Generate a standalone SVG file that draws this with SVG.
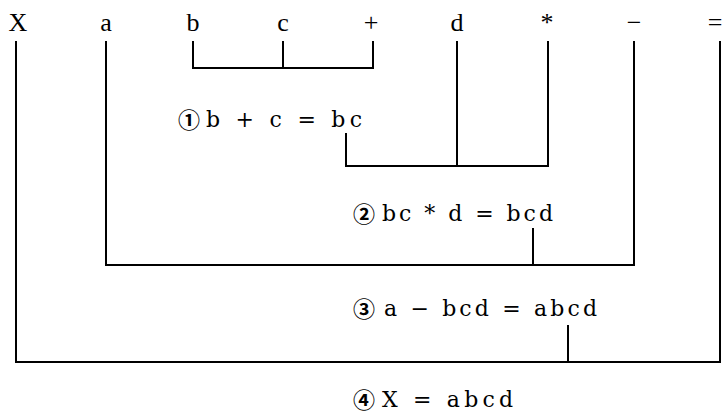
<svg xmlns="http://www.w3.org/2000/svg" width="723" height="417" viewBox="0 0 723 417">
<style>
.tok{font-family:"Liberation Serif","DejaVu Serif",serif;font-size:26px;fill:#000;text-anchor:middle}
.lbl{font-family:"DejaVu Serif","Liberation Serif",serif;font-size:22px;fill:#000}
.num{font-family:"Noto Sans CJK JP","DejaVu Sans",sans-serif;font-size:22px;font-weight:bold;fill:#000}
.ln{stroke:#000;stroke-width:2;fill:none;stroke-linecap:square}
</style>
<rect width="723" height="417" fill="#fff"/>
<g id="tokens">
<g id="n-X"><text class="tok" x="18" y="31">X</text></g>
<g id="n-a"><text class="tok" x="106" y="31">a</text></g>
<g id="n-b"><text class="tok" x="193" y="31">b</text></g>
<g id="n-c"><text class="tok" x="283" y="31">c</text></g>
<g id="n-plus"><text class="tok" x="371" y="31">+</text></g>
<g id="n-d"><text class="tok" x="457" y="31">d</text></g>
<g id="n-star"><text class="tok" x="547" y="31">*</text></g>
<g id="n-minus"><text class="tok" x="634" y="31">−</text></g>
<g id="n-eq"><text class="tok" x="715" y="31">=</text></g>
</g>
<g id="s1"><text class="num" x="178" y="128">①</text><text class="lbl" x="206" y="127" xml:space="preserve" textLength="156" lengthAdjust="spacing">b + c = bc</text></g>
<g id="s2"><text class="num" x="353" y="222">②</text><text class="lbl" x="382" y="221" xml:space="preserve" textLength="171" lengthAdjust="spacing">bc * d = bcd</text></g>
<g id="s3"><text class="num" x="353" y="317">③</text><text class="lbl" x="384" y="316" xml:space="preserve" textLength="213" lengthAdjust="spacing">a − bcd = abcd</text></g>
<g id="s4"><text class="num" x="353" y="408">④</text><text class="lbl" x="382" y="407" xml:space="preserve" textLength="131" lengthAdjust="spacing">X = abcd</text></g>
<g id="connectors">
<path class="ln" d="M193 42V68H373V42M283 42V68"/>
<path class="ln" d="M346 134V166H548V42M457 42V166"/>
<path class="ln" d="M106 42V265H634V42M533 229V265"/>
<path class="ln" d="M16 42V362H720V42M568 326V362"/>
</g>
</svg>
